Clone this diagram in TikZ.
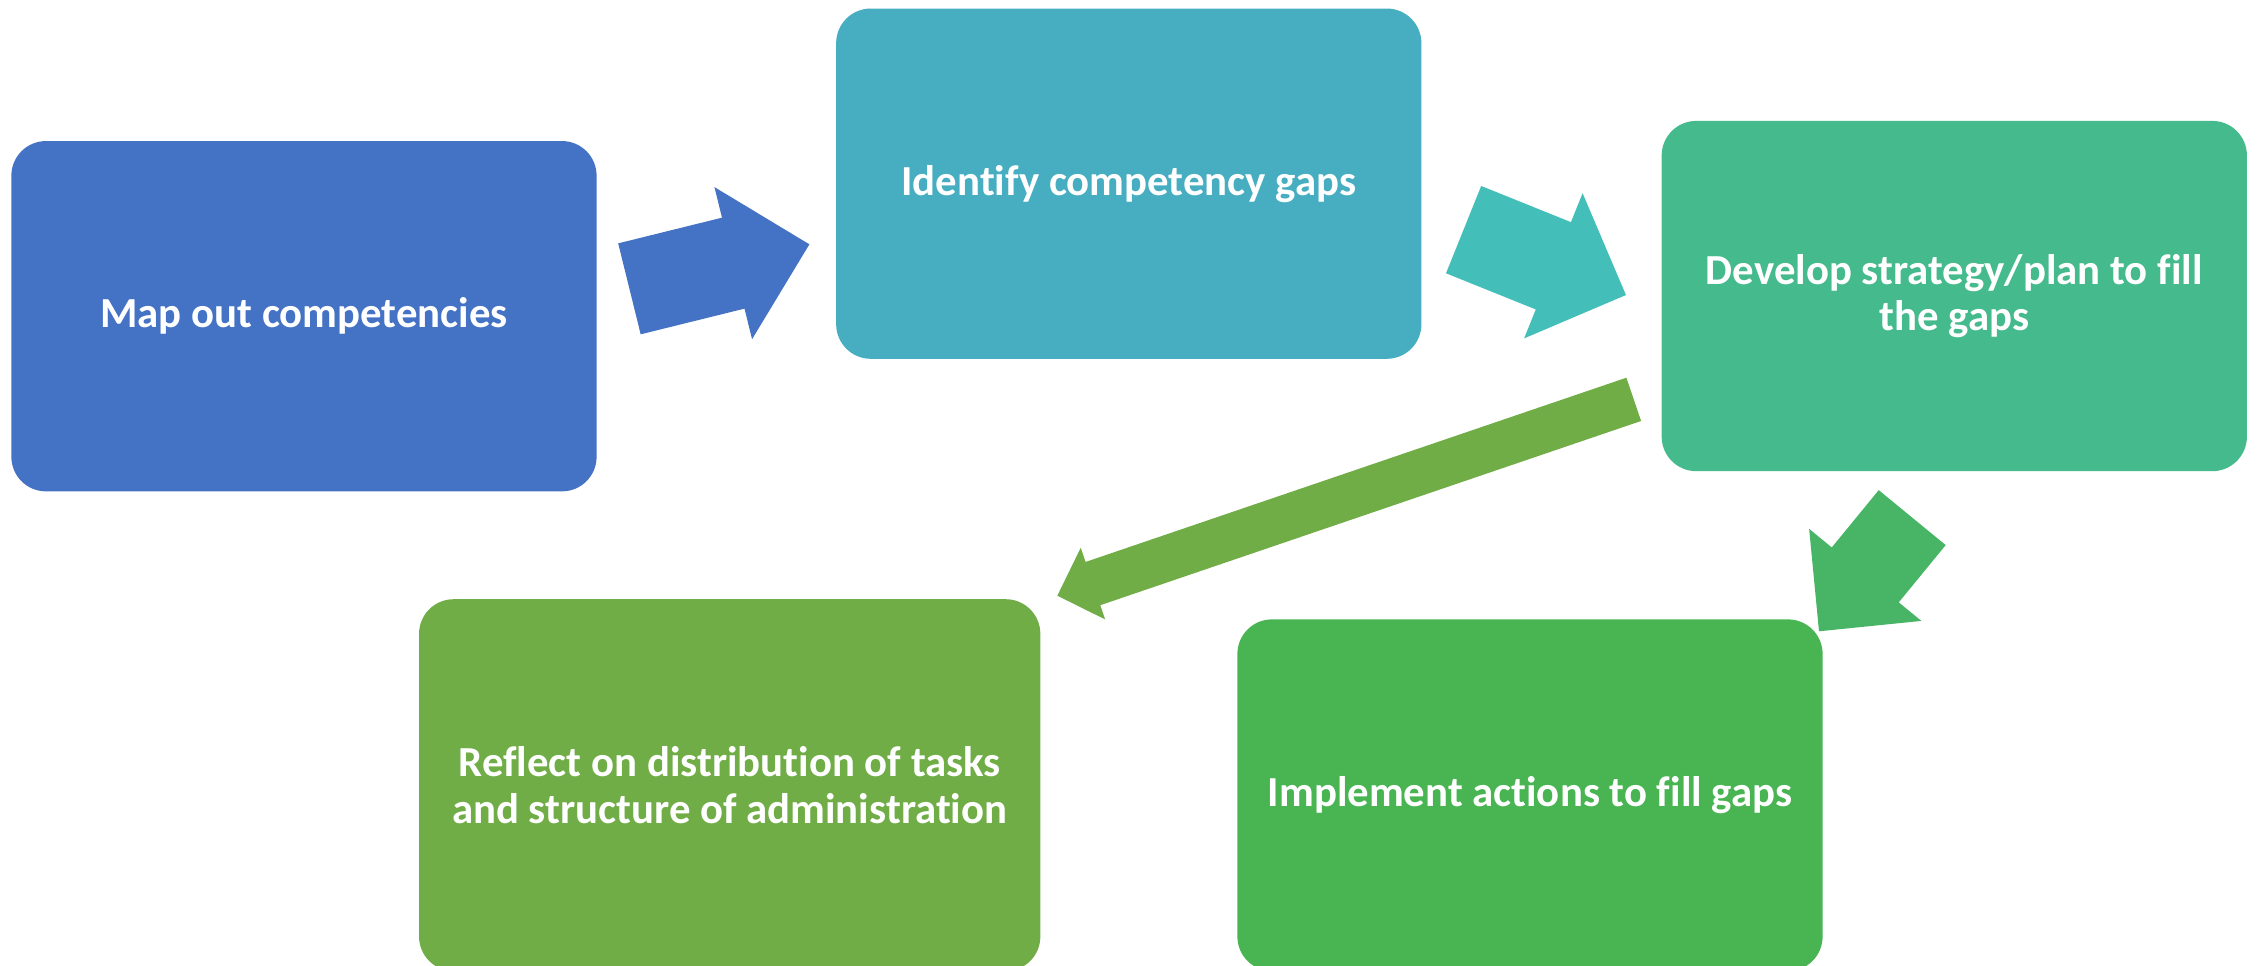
\documentclass[tikz,border=0pt]{standalone}
\usepackage{fontspec}
\setmainfont{Carlito}[Ligatures=NoCommon]
\usetikzlibrary{calc}

\definecolor{mapblue}{HTML}{4472C4}
\definecolor{gapteal}{HTML}{46AEC0}
\definecolor{arrowteal}{HTML}{44BEB9}
\definecolor{plangreen}{HTML}{44BA8D}
\definecolor{actgreen}{HTML}{48B452}
\definecolor{arrowgreen}{HTML}{47B565}
\definecolor{reflectgreen}{HTML}{70AD47}

% block arrow: colour, tail, tip, half shaft, half head, head length
\newcommand{\blockarrow}[6]{%
  \coordinate (#2 base) at ($(#3)!#6!(#2)$);
  \fill[#1] ($(#2)!#4!90:(#3)$) -- ($(#2 base)!#4!-90:(#2)$)
            -- ($(#2 base)!#5!-90:(#2)$) -- (#3)
            -- ($(#2 base)!#5!90:(#2)$) -- ($(#2 base)!#4!90:(#2)$)
            -- ($(#2)!#4!-90:(#3)$) -- cycle;}

\begin{document}
\begin{tikzpicture}[x=0.01cm, y=-0.01cm]
        \tikzset{box/.style={rectangle, rounded corners=0.24cm, fill=#1,
                 text=white, align=center, inner sep=0pt,
                 minimum width=4.06cm, minimum height=2.43cm,
                 font=\bfseries\fontsize{8.45}{9.1}\selectfont}}

        \useasboundingbox (0, 0) rectangle (1568, 670.5);

        \node[box=mapblue] (map) at (211, 219.5) {Map out competencies};
        \node[box=gapteal] (gaps) at (783.5, 127.5) {Identify competency gaps};
        \node[box=plangreen] (plan) at (1356.5, 205.5)
             {Develop strategy/plan to fill\\the gaps};
        \node[box=reflectgreen, minimum width=4.31cm, minimum height=2.58cm]
             (reflect) at (506.5, 545)
             {Reflect on distribution of tasks\\and structure of administration};
        \node[box=actgreen, minimum height=2.44cm]
             (act) at (1062, 552) {Implement actions to fill gaps};

        \coordinate (map out)  at (436.9, 200.5);
        \coordinate (gaps in)  at (561.8, 169.6);
        \coordinate (gaps out) at (1015.9, 159.4);
        \coordinate (plan in)  at (1128.6, 204.8);
        \coordinate (plan out) at (1134, 277.2);
        \coordinate (reflect in) at (733.9, 413.5);
        \coordinate (plan down) at (1327.3, 359.3);
        \coordinate (act in)   at (1262.6, 438.2);

        \blockarrow{mapblue}{map out}{gaps in}{0.325cm}{0.5435cm}{0.544cm}
        \blockarrow{arrowteal}{gaps out}{plan in}{0.3265cm}{0.543cm}{0.543cm}
        \blockarrow{reflectgreen}{plan out}{reflect in}{0.1585cm}{0.2625cm}{0.261cm}
        \blockarrow{arrowgreen}{plan down}{act in}{0.3005cm}{0.5035cm}{0.506cm}
      \end{tikzpicture}
\end{document}
